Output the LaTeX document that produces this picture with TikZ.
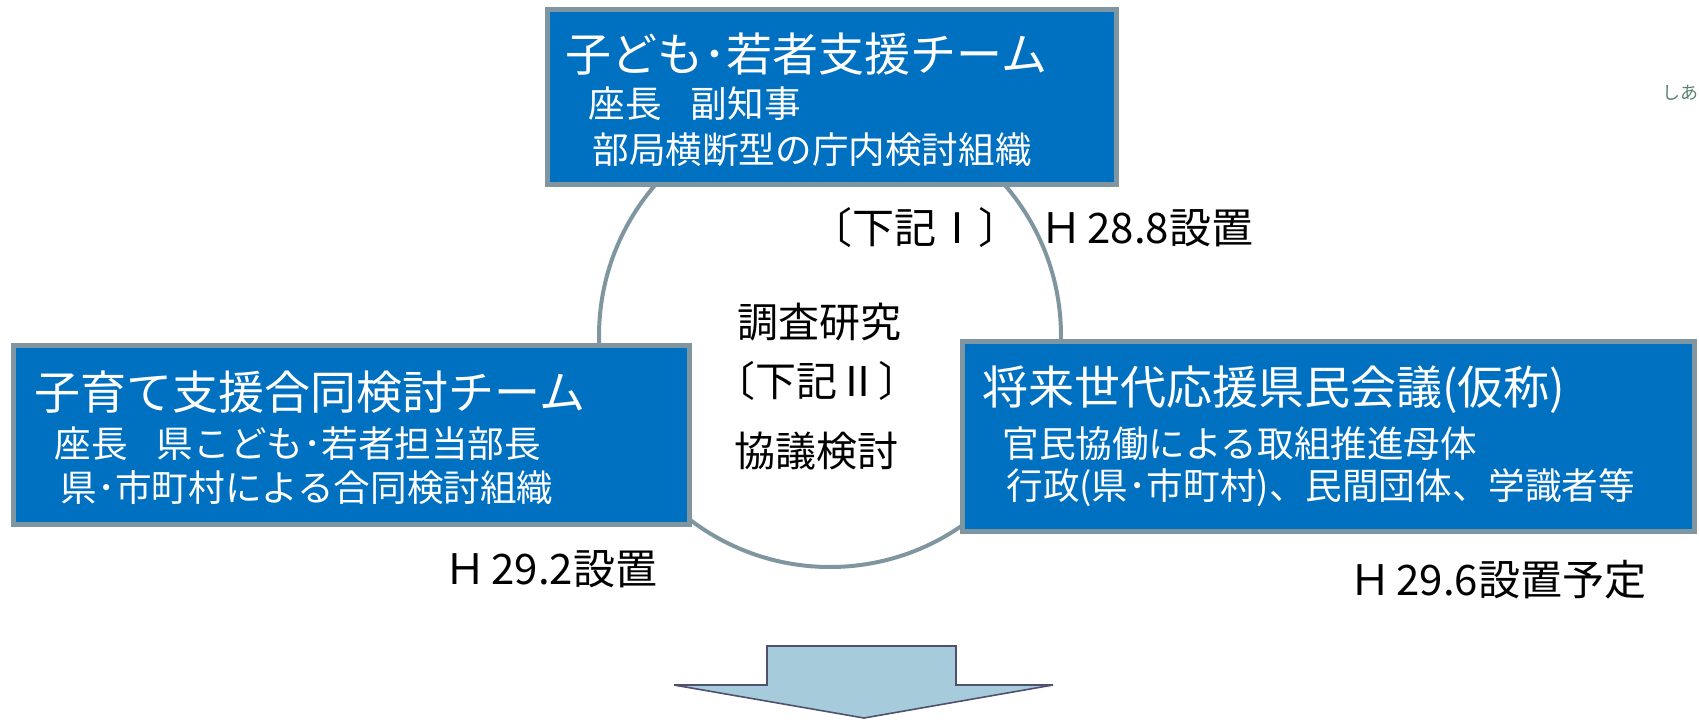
\documentclass[tikz,border=0pt]{standalone}
\usepackage{fontspec}
\setmainfont{Noto Sans CJK JP}
\definecolor{boxblue}{RGB}{0,112,192}
\definecolor{boxedge}{RGB}{127,150,160}
\definecolor{ringc}{RGB}{127,150,160}
\definecolor{arrowfill}{RGB}{166,203,218}
\definecolor{arrowedge}{RGB}{80,80,112}
\definecolor{faint}{RGB}{90,130,110}
\begin{document}
\begin{tikzpicture}[x=0.5pt,y=-0.5pt,
  bluebox/.style={draw=boxedge, line width=2.5pt, fill=boxblue, inner sep=0pt},
  titletext/.style={font=\fontsize{23}{27}\selectfont, text=white, anchor=west, inner sep=0pt},
  subtext/.style={font=\fontsize{18.3}{22}\selectfont, text=white, anchor=west, inner sep=0pt},
  blacktext/.style={font=\fontsize{21}{25}\selectfont, text=black, anchor=west, inner sep=0pt},
  centertext/.style={font=\fontsize{20.5}{24}\selectfont, text=black, anchor=center, inner sep=0pt}]
\useasboundingbox (0,0) rectangle (1699,724);
% ring
\node[draw=ringc, line width=2pt, circle, minimum size=231pt, inner sep=0pt] (ring) at (830,336) {};
% boxes
\node[bluebox, minimum width=284.5pt, minimum height=87.5pt] (topbox) at (831.5,96.5) {};
\node[bluebox, minimum width=338pt, minimum height=89.5pt] (leftbox) at (351,434.5) {};
\node[bluebox, minimum width=366pt, minimum height=95pt] (rightbox) at (1328,436) {};
% top box text
\node[titletext] (t1) at (565,54) {子ども･若者支援チーム};
\node[subtext] (t2) at (588,104) {座長\hspace{0.8em}副知事};
\node[subtext] (t3) at (592,150) {部局横断型の庁内検討組織};
% left box text
\node[titletext] (l1) at (34,392) {子育て支援合同検討チーム};
\node[subtext] (l2) at (54,444) {座長\hspace{0.8em}県こども･若者担当部長};
\node[subtext] (l3) at (60,488) {県･市町村による合同検討組織};
% right box text
\node[titletext] (r1) at (982,390) {将来世代応援県民会議(仮称)};
\node[subtext] (r2) at (1002,444) {官民協働による取組推進母体};
\node[subtext] (r3) at (1006,488) {行政(県･市町村)、民間団体、学識者等};
% labels
\node[blacktext] (k1) at (810,228) {〔下記Ⅰ〕};
\node[blacktext] (d1) at (1040,228) {Ｈ\hspace{0.12em}28.8設置};
\node[centertext] (c1) at (819,322) {調査研究};
\node[centertext] (c2) at (817,381) {〔下記Ⅱ〕};
\node[centertext] (c3) at (816,451) {協議検討};
\node[blacktext] (d2) at (444,569) {Ｈ\hspace{0.12em}29.2設置};
\node[blacktext] (d3) at (1349,580) {Ｈ\hspace{0.12em}29.6設置予定};
\node[font=\fontsize{9}{10}\selectfont, text=faint, anchor=west, inner sep=0pt] (edge) at (1662,93) {しあ};
% down arrow
\draw[fill=arrowfill, draw=arrowedge, line width=0.8pt, line join=miter]
  (767,646) -- (956,646) -- (956,685) -- (1053,685) -- (864,718) -- (674,685) -- (767,685) -- cycle;
\end{tikzpicture}
\end{document}
